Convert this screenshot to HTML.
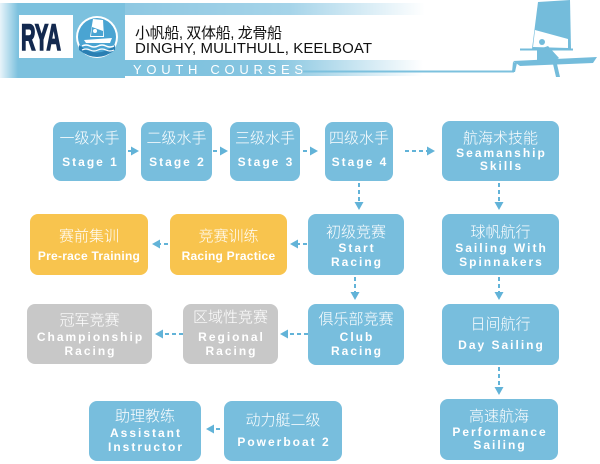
<!DOCTYPE html>
<html><head><meta charset="utf-8">
<style>
html,body{margin:0;padding:0;background:#fff;}
body{width:600px;height:464px;position:relative;overflow:hidden;font-family:"Liberation Sans","Noto Sans CJK SC",sans-serif;}
.b{position:absolute;border-radius:8px;background:#78bedd;color:#fff;}
.o{background:#f8c44e;}
.g{background:#c8c8c8;}
.l{position:absolute;left:0;right:0;text-align:center;line-height:16px;height:16px;white-space:nowrap;}
.cn{font-family:"Liberation Sans","Noto Sans CJK SC",sans-serif;font-size:15px;font-weight:300;}
.en{font-family:"Liberation Sans",sans-serif;font-size:12px;font-weight:bold;letter-spacing:2px;padding-left:2px;}
.en2{font-family:"Liberation Sans",sans-serif;font-size:12px;font-weight:bold;letter-spacing:0.25px;}
svg{position:absolute;left:0;top:0;}
</style></head><body>

<svg width="600" height="82" viewBox="0 0 600 82">
<defs>
<linearGradient id="gt" x1="0" x2="1" y1="0" y2="0">
<stop offset="0" stop-color="#8ec8e2"/><stop offset="0.55" stop-color="#a6d4e9"/><stop offset="1" stop-color="#ffffff"/>
</linearGradient>
<linearGradient id="gb" x1="0" x2="1" y1="0" y2="0">
<stop offset="0" stop-color="#7cc1de"/><stop offset="0.5" stop-color="#86c5e0"/><stop offset="1" stop-color="#ffffff"/>
</linearGradient>
<linearGradient id="gl" x1="0" x2="1" y1="0" y2="0">
<stop offset="0" stop-color="#e8f4fa"/><stop offset="1" stop-color="#7cc1de"/>
</linearGradient>
</defs>
<rect x="0" y="3" width="125" height="75" fill="#7cc1de"/>
<rect x="0" y="3" width="18" height="75" fill="url(#gl)"/>
<rect x="125" y="3" width="300" height="12" fill="url(#gt)"/>
<rect x="19" y="15" width="54" height="43" fill="#fff"/>
<rect x="123" y="60" width="300" height="16" fill="url(#gb)"/>
<line x1="300" y1="71.5" x2="514" y2="71.5" stroke="#7cc1de" stroke-width="2"/>
<text x="21" y="50" font-family="Liberation Sans" font-weight="bold" font-size="37" fill="#13294f" stroke="#13294f" stroke-width="1.6" textLength="40" lengthAdjust="spacingAndGlyphs">RYA</text>
<circle cx="97" cy="37" r="21" fill="#fff"/>
<circle cx="97" cy="37" r="19" fill="#4aa4d2"/>
<path d="M79,45 Q97,60 115,45 L115,50 Q97,64 79,50 Z" fill="#2a7fb3"/>
<path d="M82,46 q4,-2 8,0 q4,2 8,0 q4,-2 8,0 q4,2 8,0" stroke="#fff" stroke-width="1.5" fill="none"/>
<path d="M82,50 q4,-2 8,0 q4,2 8,0 q4,-2 8,0 q4,2 8,0" stroke="#fff" stroke-width="1.2" fill="none"/>
<polygon points="93,19 103,20 104,37 90,37" fill="#fff"/>
<polygon points="92,27 103,31 103,36 91,36" fill="#4aa4d2"/>
<polygon points="84,40 112,38 110,43 86,43" fill="#fff"/>
<circle cx="95" cy="31" r="2" fill="#fff"/>
<text x="135" y="38" font-family="Liberation Sans, Noto Sans CJK SC, sans-serif" font-size="15" fill="#111" textLength="147">小帆船, 双体船, 龙骨船</text>
<text x="135" y="53" font-family="Liberation Sans" font-size="15" fill="#111" textLength="237">DINGHY, MULITHULL, KEELBOAT</text>
<text x="133" y="74" font-family="Liberation Sans" font-size="13" fill="#fff" textLength="170">YOUTH COURSES</text>
<polygon points="538,2 570,0 571,49 532,49" fill="#74bcdb"/>
<polygon points="535,30 568,39 568,48 533,47" fill="#fff"/>
<line x1="520" y1="49.5" x2="573" y2="49.5" stroke="#74bcdb" stroke-width="2"/>
<circle cx="542" cy="42" r="3" fill="#74bcdb"/>
<polygon points="537,50 548,46 559,58 553,62 537,62" fill="#74bcdb"/>
<polygon points="513,61 597,57 593,63 520,66" fill="#74bcdb"/>
<polygon points="513,62 517,63 515,72 512,72" fill="#74bcdb"/>
<polygon points="553,64 557,64 560,77 556,77" fill="#74bcdb"/>
</svg>

<svg width="600" height="464" viewBox="0 0 600 464" style="top:0">
<g stroke="#62b3d8" stroke-width="2" stroke-dasharray="4 3" fill="none">
<line x1="128" y1="151" x2="132" y2="151"/>
<line x1="213" y1="151" x2="221" y2="151"/>
<line x1="303" y1="151" x2="311" y2="151"/>
<line x1="405" y1="151" x2="428" y2="151"/>
<line x1="359" y1="183" x2="359" y2="203"/>
<line x1="499" y1="183" x2="499" y2="203"/>
<line x1="355" y1="277" x2="355" y2="293"/>
<line x1="499" y1="277" x2="499" y2="293"/>
<line x1="499" y1="367" x2="499" y2="388"/>
<line x1="307" y1="244" x2="297" y2="244"/>
<line x1="168" y1="244" x2="159" y2="244"/>
<line x1="308" y1="334" x2="287" y2="334"/>
<line x1="183" y1="334" x2="162" y2="334"/>
<line x1="220" y1="429" x2="213" y2="429"/>
</g>
<g fill="#62b3d8">
<polygon points="131,146.5 139,151 131,155.5"/>
<polygon points="220,146.5 228,151 220,155.5"/>
<polygon points="310,146.5 318,151 310,155.5"/>
<polygon points="427,146.5 435,151 427,155.5"/>
<polygon points="354.5,202 363.5,202 359,210"/>
<polygon points="494.5,202 503.5,202 499,210"/>
<polygon points="350.5,292 359.5,292 355,300"/>
<polygon points="494.5,292 503.5,292 499,300"/>
<polygon points="494.5,387 503.5,387 499,395"/>
<polygon points="298,239.5 290,244 298,248.5"/>
<polygon points="160,239.5 152,244 160,248.5"/>
<polygon points="288,329.5 280,334 288,338.5"/>
<polygon points="163,329.5 155,334 163,338.5"/>
<polygon points="214,424.5 206,429 214,433.5"/>
</g>
</svg>

<div class="b" style="left:53px;top:122px;width:73px;height:59px;"><div class="l cn" style="top:9px">一级水手</div><div class="l en" style="top:32px">Stage 1</div></div>
<div class="b" style="left:141px;top:122px;width:71px;height:59px;"><div class="l cn" style="top:9px">二级水手</div><div class="l en" style="top:32px">Stage 2</div></div>
<div class="b" style="left:230px;top:122px;width:70px;height:59px;"><div class="l cn" style="top:9px">三级水手</div><div class="l en" style="top:32px">Stage 3</div></div>
<div class="b" style="left:325px;top:122px;width:68px;height:59px;"><div class="l cn" style="top:9px">四级水手</div><div class="l en" style="top:32px">Stage 4</div></div>
<div class="b" style="left:442px;top:121px;width:117px;height:60px;"><div class="l cn" style="top:10px">航海术技能</div><div class="l en" style="top:24px">Seamanship</div><div class="l en" style="top:37px">Skills</div></div>

<div class="b o" style="left:30px;top:214px;width:118px;height:61px;"><div class="l cn" style="top:15px">赛前集训</div><div class="l en2" style="top:34px">Pre-race Training</div></div>
<div class="b o" style="left:170px;top:214px;width:117px;height:61px;"><div class="l cn" style="top:15px">竞赛训练</div><div class="l en2" style="top:34px">Racing Practice</div></div>
<div class="b" style="left:308px;top:214px;width:96px;height:61px;"><div class="l cn" style="top:11px">初级竞赛</div><div class="l en" style="top:26px">Start</div><div class="l en" style="top:40px">Racing</div></div>
<div class="b" style="left:442px;top:214px;width:117px;height:61px;"><div class="l cn" style="top:11px">球帆航行</div><div class="l en" style="top:26px">Sailing With</div><div class="l en" style="top:40px">Spinnakers</div></div>

<div class="b g" style="left:27px;top:304px;width:125px;height:60px;"><div class="l cn" style="top:9px">冠军竞赛</div><div class="l en" style="top:25px">Championship</div><div class="l en" style="top:39px">Racing</div></div>
<div class="b g" style="left:183px;top:304px;width:95px;height:60px;"><div class="l cn" style="top:6px">区域性竞赛</div><div class="l en" style="top:25px">Regional</div><div class="l en" style="top:39px">Racing</div></div>
<div class="b" style="left:308px;top:304px;width:96px;height:61px;"><div class="l cn" style="top:8px">俱乐部竞赛</div><div class="l en" style="top:25px">Club</div><div class="l en" style="top:39px">Racing</div></div>
<div class="b" style="left:442px;top:304px;width:117px;height:61px;"><div class="l cn" style="top:13px">日间航行</div><div class="l en" style="top:33px">Day Sailing</div></div>

<div class="b" style="left:89px;top:401px;width:112px;height:60px;"><div class="l cn" style="top:8px">助理教练</div><div class="l en" style="top:24px">Assistant</div><div class="l en" style="top:38px">Instructor</div></div>
<div class="b" style="left:224px;top:401px;width:118px;height:60px;"><div class="l cn" style="top:12px">动力艇二级</div><div class="l en" style="top:33px">Powerboat 2</div></div>
<div class="b" style="left:440px;top:399px;width:118px;height:61px;"><div class="l cn" style="top:10px">高速航海</div><div class="l en" style="top:25px">Performance</div><div class="l en" style="top:38px">Sailing</div></div>

</body></html>
